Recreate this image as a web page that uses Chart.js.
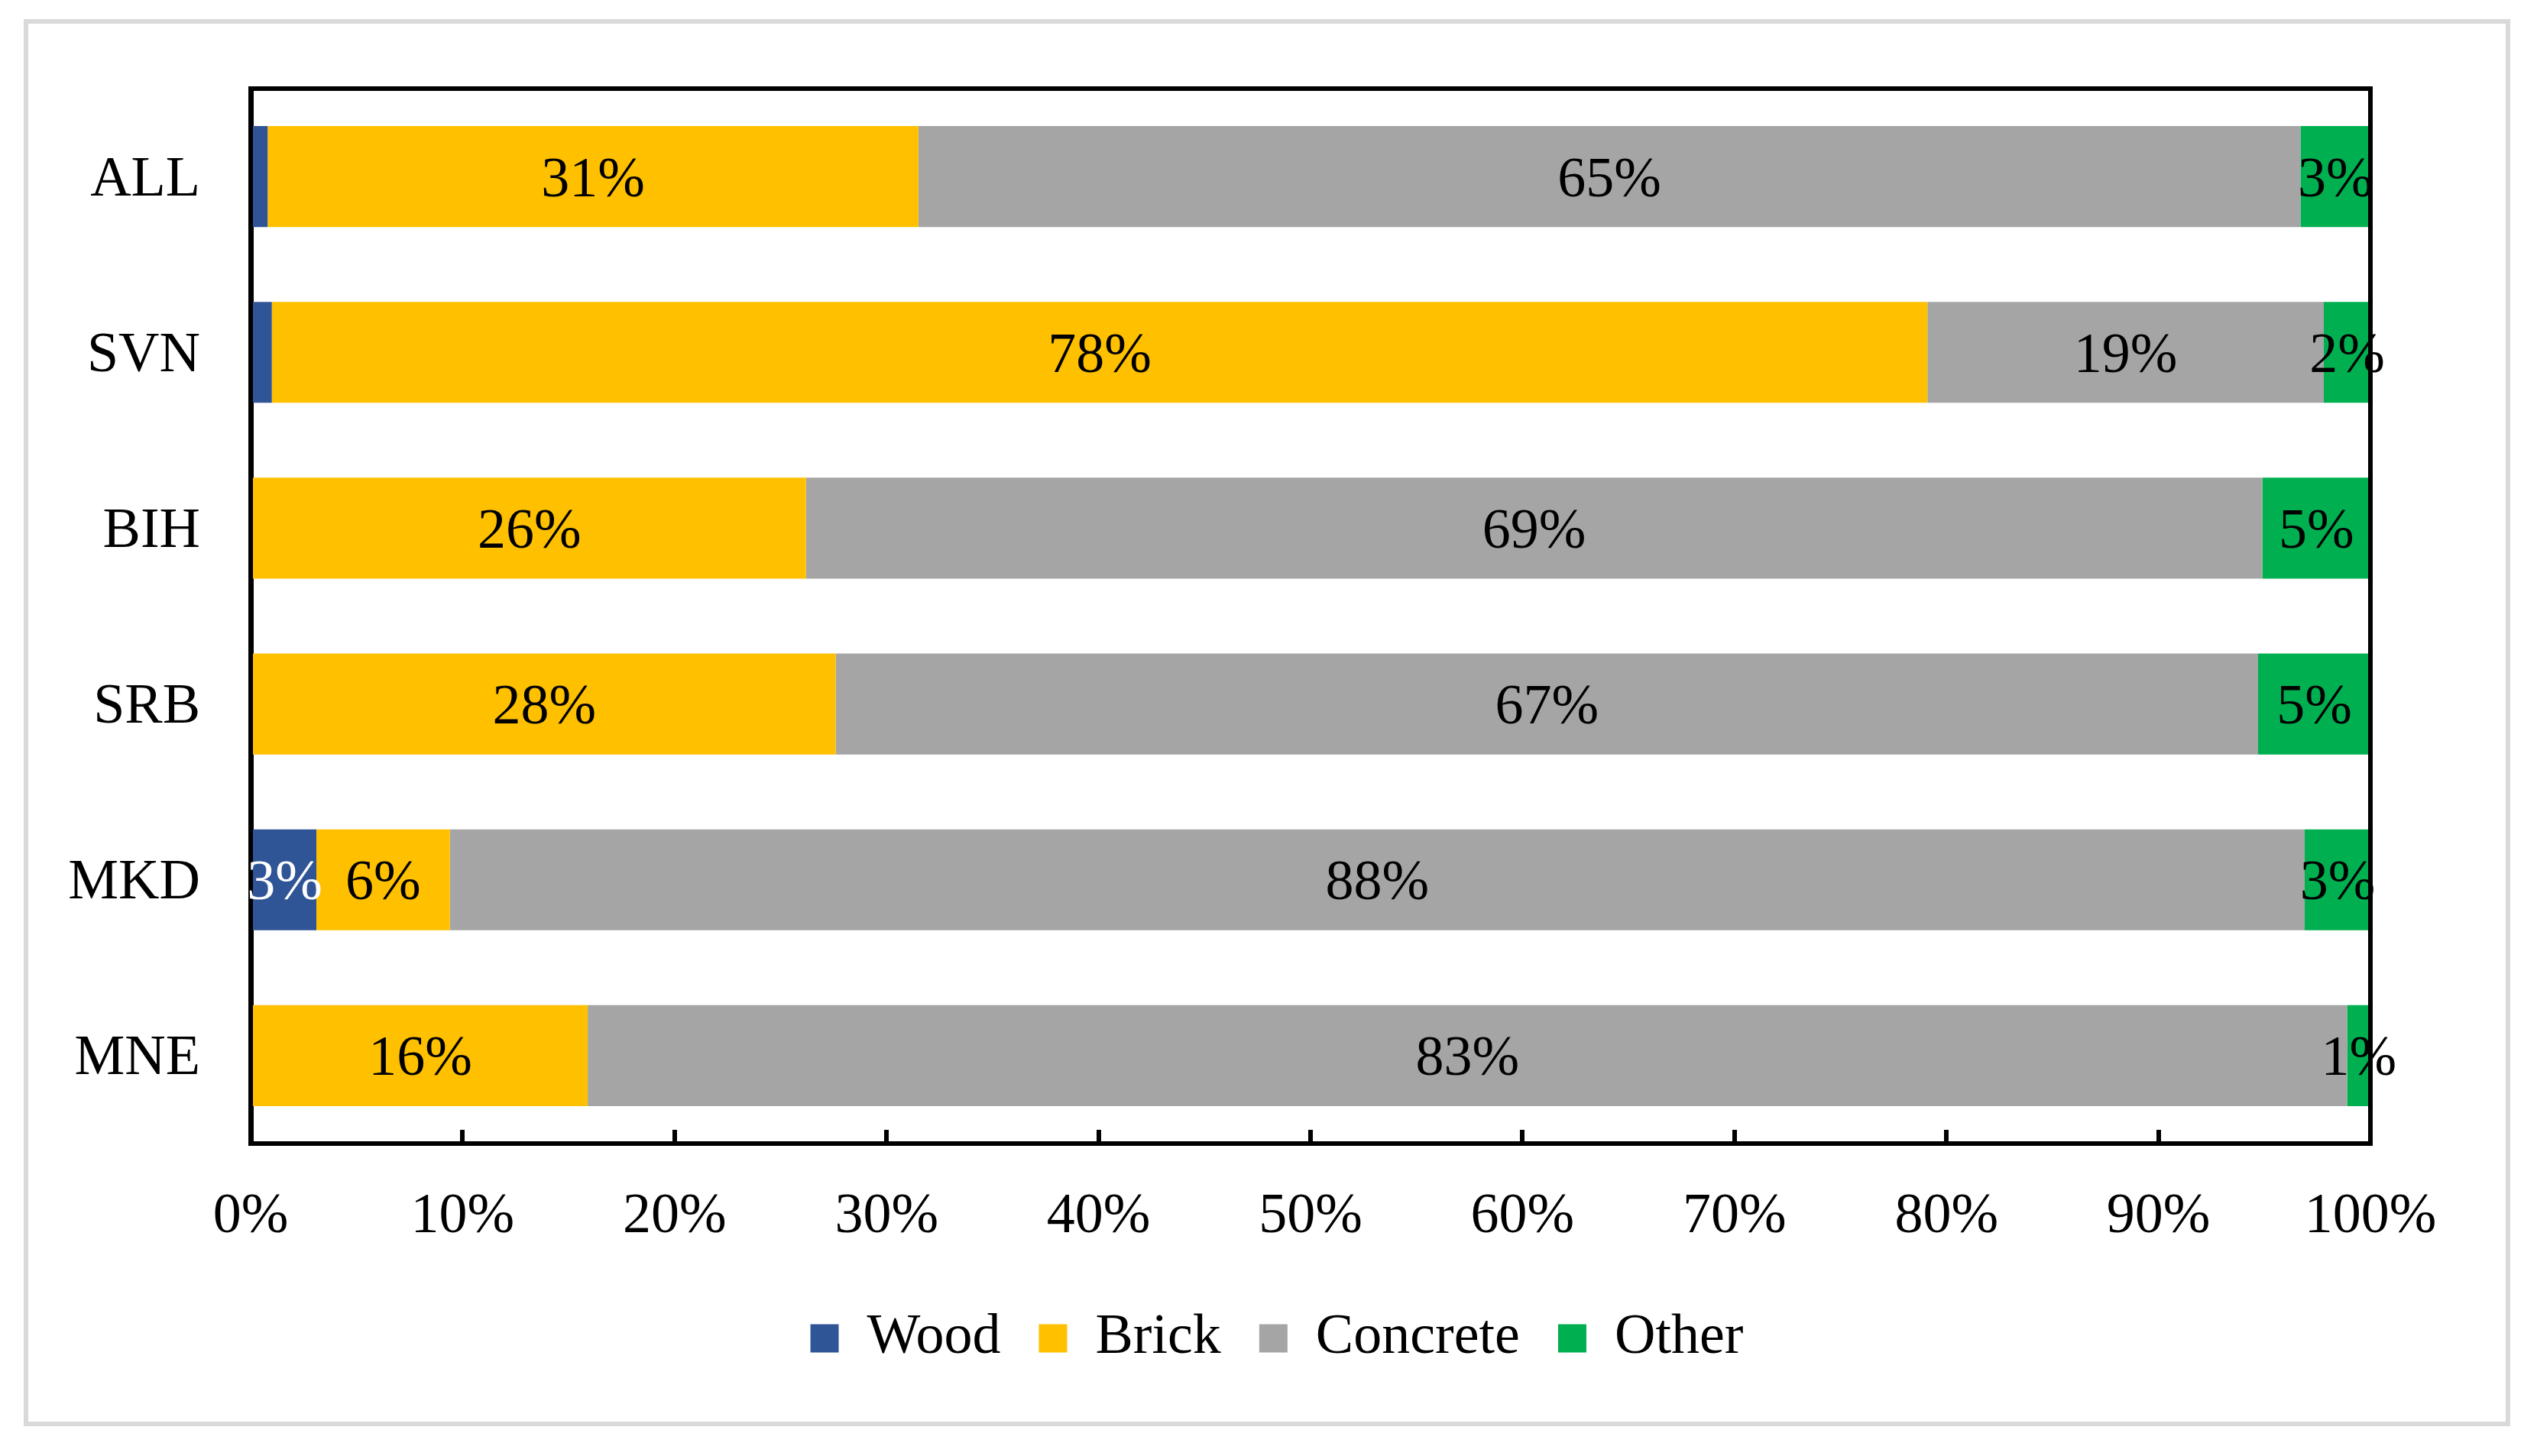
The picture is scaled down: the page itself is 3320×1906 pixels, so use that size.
<!DOCTYPE html>
<html>
<head>
<meta charset="utf-8">
<script src="https://cdn.jsdelivr.net/npm/chart.js@4/dist/chart.umd.min.js"></script>
<style>
  html, body { margin: 0; padding: 0; background: #fff; }
  #wrap { position: relative; width: 3320px; height: 1906px; }
  #frame { position: absolute; left: 31px; top: 25px; width: 3254px; height: 1842px;
           border: 6px solid #d9d9d9; box-sizing: border-box; pointer-events: none; }
  canvas { position: absolute; left: 0; top: 0; }
</style>
</head>
<body>
<div id="wrap">
  <canvas id="chart" width="3320" height="1906"></canvas>
  <div id="frame"></div>
</div>
<script>
const countries = ['ALL', 'SVN', 'BIH', 'SRB', 'MKD', 'MNE'];
const wood = [0.8, 1.0, 0, 0, 3.1, 0];
const brick = [30.7, 78.1, 26.2, 27.6, 6.3, 15.9];
const concrete = [65.2, 18.7, 68.7, 67.1, 87.5, 83.0];
const other = [3.3, 2.2, 5.1, 5.3, 3.1, 1.1];
const xTicks = [0, 10, 20, 30, 40, 50, 60, 70, 80, 90, 100];

const FONT = "'Liberation Serif', 'Times New Roman', serif";
const FS = 74;

// border round the plot + value labels in the bars
const barLabels = {
  id: 'barLabels',
  afterLayout(chart) {
    // legend sits a bit right of the canvas middle, like the original
    chart.legend.left += 100;
    chart.legend.right += 100;
  },
  afterDatasetsDraw(chart) {
    const ctx = chart.ctx;
    const a = chart.chartArea;
    ctx.save();
    ctx.strokeStyle = '#000';
    ctx.lineWidth = 6;
    ctx.beginPath();
    ctx.moveTo(a.left, a.top);
    ctx.lineTo(a.right, a.top);
    ctx.lineTo(a.right, a.bottom);
    ctx.stroke();

    ctx.font = FS + 'px ' + FONT;
    ctx.textAlign = 'center';
    ctx.textBaseline = 'middle';
    chart.data.datasets.forEach((ds, di) => {
      const meta = chart.getDatasetMeta(di);
      meta.data.forEach((bar, i) => {
        const v = ds.data[i];
        if (!v) return;
        if (di === 0 && v < 2) return;
        ctx.fillStyle = di === 0 ? '#fff' : '#000';
        const cx = (bar.x + bar.base) / 2;
        ctx.fillText(Math.round(v) + '%', cx, bar.y + 6);
      });
    });
    ctx.restore();
  }
};

new Chart(document.getElementById('chart'), {
  type: 'bar',
  data: {
    labels: countries,
    datasets: [
      { label: 'Wood', data: wood, backgroundColor: '#2f5597' },
      { label: 'Brick', data: brick, backgroundColor: '#ffc000' },
      { label: 'Concrete', data: concrete, backgroundColor: '#a5a5a5' },
      { label: 'Other', data: other, backgroundColor: '#00b050' }
    ]
  },
  options: {
    indexAxis: 'y',
    responsive: false,
    animation: false,
    devicePixelRatio: 1,
    borderWidth: 0,
    barPercentage: 0.574,
    categoryPercentage: 1,
    layout: { padding: { left: 40, right: 218, top: 116, bottom: 107 } },
    scales: {
      x: {
        stacked: true,
        min: 0,
        max: 100,
        z: 1,
        afterBuildTicks: s => { s.ticks = xTicks.map(v => ({ value: v })); },
        afterFit: s => { s.height = 168; },
        grid: { drawOnChartArea: false, drawTicks: true, tickLength: -18, lineWidth: 6, color: '#000' },
        border: { display: true, color: '#000', width: 6 },
        ticks: {
          color: '#000',
          font: { family: FONT, size: FS },
          padding: 70,
          maxRotation: 0,
          callback: v => v + '%'
        }
      },
      y: {
        stacked: true,
        z: 1,
        afterFit: s => { s.width = 288; },
        grid: { drawOnChartArea: false, drawTicks: false },
        border: { display: true, color: '#000', width: 7 },
        ticks: { color: '#000', font: { family: FONT, size: FS }, padding: 66, labelOffset: 5 }
      }
    },
    plugins: {
      legend: {
        position: 'bottom',
        labels: {
          color: '#000',
          font: { family: FONT, size: FS },
          boxWidth: 37,
          boxHeight: 37,
          padding: 50
        }
      },
      tooltip: { enabled: false }
    }
  },
  plugins: [barLabels]
});
</script>
</body>
</html>
